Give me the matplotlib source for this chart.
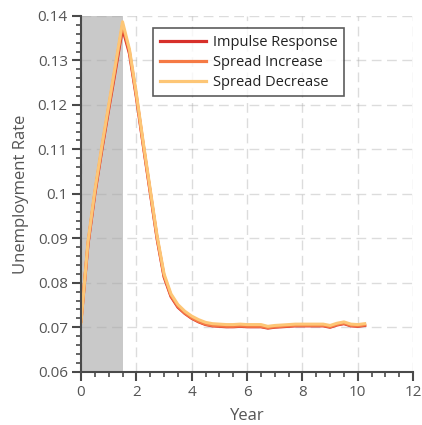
import matplotlib
matplotlib.use("Agg")
import matplotlib.pyplot as plt
from matplotlib.ticker import MultipleLocator, FuncFormatter

plt.rcParams['font.family'] = ['Open Sans', 'DejaVu Sans']

# Quarterly time grid (years)
years = [0.0, 0.25, 0.5, 0.75, 1.0, 1.25, 1.5, 1.75, 2.0, 2.25, 2.5, 2.75,
         3.0, 3.25, 3.5, 3.75, 4.0, 4.25, 4.5, 4.75, 5.0, 5.25, 5.5, 5.75,
         6.0, 6.25, 6.5, 6.75, 7.0, 7.25, 7.5, 7.75, 8.0, 8.25, 8.5, 8.75,
         9.0, 9.25, 9.5, 9.75, 10.0, 10.25]

impulse_response = [0.0714, 0.0885, 0.1000, 0.1098, 0.1190, 0.1280, 0.1372,
                    0.1315, 0.1217, 0.1108, 0.1003, 0.0898, 0.0813, 0.0769,
                    0.0745, 0.0731, 0.0720, 0.0712, 0.0706, 0.0703, 0.0702,
                    0.0701, 0.0701, 0.0702, 0.0701, 0.0701, 0.0701, 0.0698,
                    0.0700, 0.0701, 0.0702, 0.0703, 0.0703, 0.0703, 0.0703,
                    0.0703, 0.0700, 0.0705, 0.0708, 0.0703, 0.0702, 0.0704]

spread_increase = [0.0714, 0.0888, 0.1003, 0.1102, 0.1195, 0.1287, 0.1380,
                   0.1320, 0.1221, 0.1111, 0.1006, 0.0901, 0.0816, 0.0771,
                   0.0747, 0.0732, 0.0721, 0.0713, 0.0707, 0.0704, 0.0703,
                   0.0702, 0.0702, 0.0703, 0.0702, 0.0702, 0.0702, 0.0699,
                   0.0701, 0.0702, 0.0703, 0.0704, 0.0704, 0.0704, 0.0704,
                   0.0704, 0.0701, 0.0706, 0.0709, 0.0704, 0.0703, 0.0705]

spread_decrease = [0.0710, 0.0892, 0.1008, 0.1107, 0.1200, 0.1293, 0.1387,
                   0.1325, 0.1225, 0.1115, 0.1010, 0.0905, 0.0820, 0.0775,
                   0.0751, 0.0736, 0.0725, 0.0717, 0.0711, 0.0708, 0.0707,
                   0.0706, 0.0706, 0.0707, 0.0706, 0.0706, 0.0706, 0.0702,
                   0.0704, 0.0705, 0.0706, 0.0707, 0.0707, 0.0707, 0.0707,
                   0.0707, 0.0704, 0.0709, 0.0712, 0.0707, 0.0706, 0.0708]

series_labels = ["Impulse Response", "Spread Increase", "Spread Decrease"]
series_colors = ["#d7302a", "#f57a45", "#fdc676"]

fig = plt.figure(figsize=(4.22, 4.25), dpi=100)
ax = fig.add_axes([0.192, 0.1254, 0.787, 0.837])

ax.axvspan(0, 1.5, ymin=0, ymax=1, color="#c9c9c9", lw=0, zorder=0.5)

for vals, lab, col in zip([impulse_response, spread_increase, spread_decrease],
                          series_labels, series_colors):
    ax.plot(years, vals, color=col, lw=2.2, label=lab, zorder=3,
            solid_joinstyle='round')

ax.set_xlim(0, 12)
ax.set_ylim(0.06, 0.14)
ax.xaxis.set_major_locator(MultipleLocator(2))
ax.xaxis.set_minor_locator(MultipleLocator(0.5))
ax.yaxis.set_major_locator(MultipleLocator(0.01))
ax.yaxis.set_minor_locator(MultipleLocator(0.002))
ax.yaxis.set_major_formatter(FuncFormatter(
    lambda v, p: ("%.2f" % v).rstrip('0').rstrip('.')))

ax.grid(True, which='major', color='#a8a8a8', alpha=0.4, lw=1.0,
        linestyle=(0, (7, 4)), zorder=1)
ax.set_axisbelow(False)

for s in ['top', 'right']:
    ax.spines[s].set_visible(False)
for s in ['left', 'bottom']:
    ax.spines[s].set_color('#4a4a4a')
    ax.spines[s].set_linewidth(1.5)
    ax.spines[s].set_zorder(4)

ax.tick_params(which='major', direction='out', length=6.5, width=1.5,
               color='#4a4a4a', labelsize=11, labelcolor='#555555', pad=3)
ax.tick_params(which='minor', direction='out', length=3.5, width=1.2,
               color='#4a4a4a')

ax.set_xlabel("Year", fontsize=12, color='#555555', labelpad=6)
ax.set_ylabel("Unemployment Rate", fontsize=12, color='#555555', labelpad=6)

leg = ax.legend(loc='upper left', bbox_to_anchor=(0.217, 0.966),
                borderaxespad=0, fontsize=10.5, frameon=True, fancybox=False,
                handlelength=3.2, handletextpad=0.45, labelspacing=0.35,
                borderpad=0.45)
leg.get_frame().set_edgecolor('#333333')
leg.get_frame().set_linewidth(1.2)
for t in leg.get_texts():
    t.set_color('#222222')
for l in leg.get_lines():
    l.set_linewidth(2.3)

fig.savefig("out.png", dpi=100)
